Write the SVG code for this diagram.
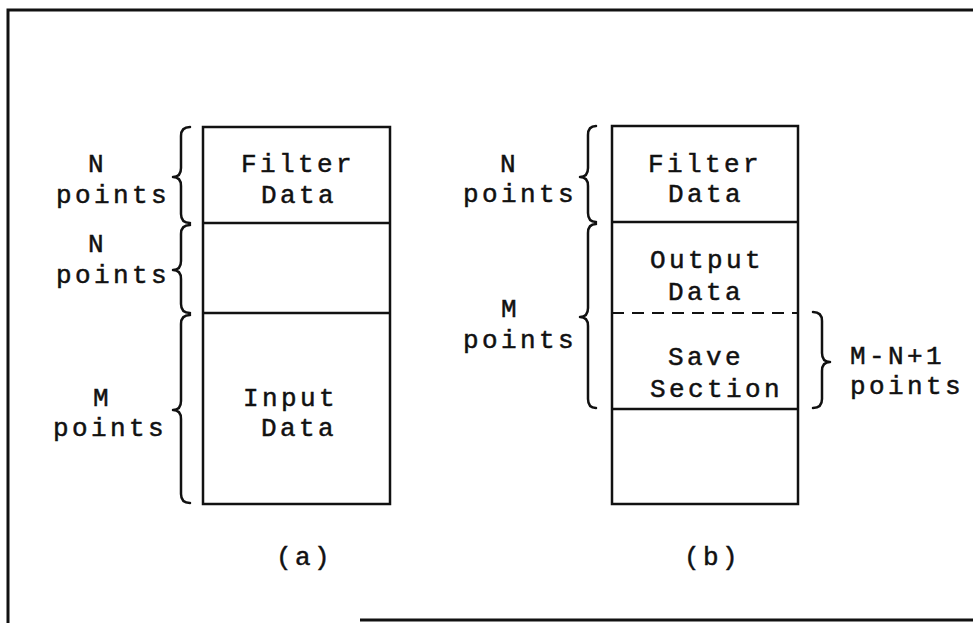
<svg xmlns="http://www.w3.org/2000/svg" width="973" height="623" viewBox="0 0 973 623">
<style>
.frame{fill:none;stroke:#111;stroke-width:3}
.box{fill:none;stroke:#111;stroke-width:2.5}
.line{stroke:#111;stroke-width:2.5}
.dash{stroke:#111;stroke-width:2;stroke-dasharray:12 8}
.brace{fill:none;stroke:#111;stroke-width:2.5;stroke-linecap:round;stroke-linejoin:round}
text{font-family:"Liberation Mono","DejaVu Sans Mono",monospace;font-size:26px;letter-spacing:3.4px;fill:#111;stroke:#111;stroke-width:0.5}
</style>
<rect width="973" height="623" fill="#fff"/>
<g id="frame">
<path class="frame" d="M8,623 L8,10 L973,10"/>
<path class="frame" d="M360,620 L973,620"/>
</g>
<g id="diagram-a">
<g id="a-memory">
<rect class="box" x="203" y="127" width="187" height="377"/>
<line class="line" x1="203" y1="223" x2="390" y2="223"/>
<line class="line" x1="203" y1="313" x2="390" y2="313"/>
</g>
<g id="a-filter"><text x="241" y="172">Filter</text><text x="261" y="203">Data</text></g>
<g id="a-input"><text x="243" y="406">Input</text><text x="261" y="436">Data</text></g>
<g id="a-label1"><text x="88" y="172">N</text><text x="56" y="203">points</text></g>
<g id="a-label2"><text x="88" y="252">N</text><text x="56" y="283">points</text></g>
<g id="a-label3"><text x="93" y="406">M</text><text x="53" y="436">points</text></g>
<text id="a-caption" x="276" y="565">(a)</text>
</g>
<g id="diagram-b">
<g id="b-memory">
<rect class="box" x="612" y="126" width="186" height="378"/>
<line class="line" x1="612" y1="222" x2="798" y2="222"/>
<line class="dash" x1="612" y1="313" x2="798" y2="313"/>
<line class="line" x1="612" y1="409" x2="798" y2="409"/>
</g>
<g id="b-filter"><text x="648" y="172">Filter</text><text x="668" y="202">Data</text></g>
<g id="b-output"><text x="650" y="268">Output</text><text x="668" y="300">Data</text></g>
<g id="b-save"><text x="668" y="365">Save</text><text x="650" y="397">Section</text></g>
<g id="b-label1"><text x="500" y="172">N</text><text x="463" y="202">points</text></g>
<g id="b-label2"><text x="501" y="317">M</text><text x="463" y="348">points</text></g>
<g id="b-label3"><text x="850" y="364">M-N+1</text><text x="850" y="394">points</text></g>
<text id="b-caption" x="684" y="565">(b)</text>
</g>
<g id="connectors">
<path class="brace" d="M190,127 Q181,127 181,136 L181,168 Q181,177 173,177 Q181,177 181,186 L181,214 Q181,223 190,223"/>
<path class="brace" d="M190,225 Q181,225 181,234 L181,261 Q181,270 173,270 Q181,270 181,279 L181,304 Q181,313 190,313"/>
<path class="brace" d="M190,315 Q181,315 181,324 L181,401 Q181,410 173,410 Q181,410 181,419 L181,494 Q181,503 190,503"/>
<path class="brace" d="M596,126 Q588,126 588,135 L588,168 Q588,177 580,177 Q588,177 588,186 L588,213 Q588,222 596,222"/>
<path class="brace" d="M596,224 Q588,224 588,233 L588,308 Q588,317 580,317 Q588,317 588,326 L588,399 Q588,408 596,408"/>
<path class="brace" d="M813,312 Q822,312 822,321 L822,353 Q822,362 830,362 Q822,362 822,371 L822,399 Q822,408 813,408"/>
</g>
</svg>
